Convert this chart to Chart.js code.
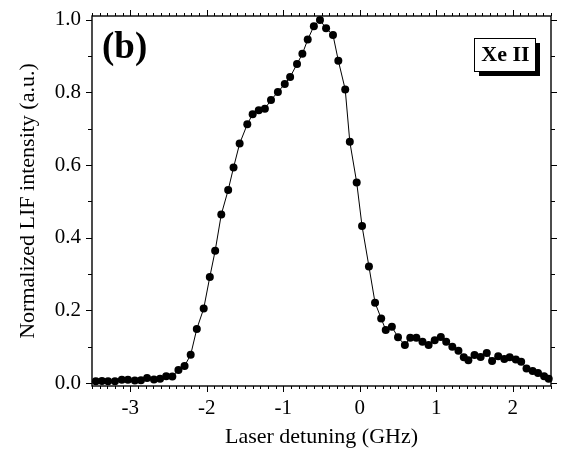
<!DOCTYPE html>
<html>
<head>
<meta charset="utf-8">
<script src="https://cdn.jsdelivr.net/npm/chart.js@4.4.0/dist/chart.umd.min.js"></script>
<style>
    html, body { margin: 0; padding: 0; background: #fff; }
    #wrap { width: 566px; height: 451px; }
</style>
</head>
<body>
<div id="wrap"><canvas id="lif-chart-id" width="566" height="451"></canvas></div>
<script>
// laser detuning (GHz)
const detuning = [
    -3.45, -3.37, -3.29, -3.20, -3.11, -3.03, -2.94, -2.86, -2.78, -2.69,
    -2.61, -2.53, -2.45, -2.37, -2.29, -2.21, -2.13, -2.04, -1.96, -1.89,
    -1.81, -1.72, -1.65, -1.57, -1.47, -1.40, -1.32, -1.24, -1.16, -1.07,
    -0.98, -0.91, -0.82, -0.75, -0.68, -0.60, -0.52, -0.44, -0.35, -0.28,
    -0.19, -0.13, -0.04, 0.03, 0.12, 0.20, 0.28, 0.34, 0.42, 0.50,
    0.59, 0.66, 0.74, 0.82, 0.90, 0.98, 1.06, 1.13, 1.21, 1.29,
    1.36, 1.42, 1.50, 1.58, 1.66, 1.73, 1.81, 1.89, 1.96, 2.04,
    2.11, 2.18, 2.26, 2.33, 2.41, 2.47
]
// normalized LIF intensity
const intensity = [
    0.005, 0.006, 0.005, 0.005, 0.009, 0.009, 0.007, 0.008, 0.014, 0.010,
    0.012, 0.019, 0.018, 0.036, 0.047, 0.078, 0.149, 0.205, 0.292, 0.364,
    0.464, 0.531, 0.593, 0.659, 0.712, 0.740, 0.751, 0.755, 0.779, 0.801,
    0.823, 0.842, 0.878, 0.906, 0.945, 0.982, 0.999, 0.976, 0.958, 0.887,
    0.808, 0.664, 0.552, 0.432, 0.321, 0.221, 0.178, 0.146, 0.155, 0.126,
    0.105, 0.125, 0.125, 0.114, 0.105, 0.118, 0.127, 0.114, 0.100, 0.089,
    0.071, 0.063, 0.077, 0.072, 0.083, 0.061, 0.074, 0.066, 0.071, 0.065,
    0.059, 0.040, 0.033, 0.028, 0.019, 0.012
]
const xTicks = [-3, -2, -1, 0, 1, 2]
const yTicks = [0, 0.2, 0.4, 0.6, 0.8, 1.0]
const panelLabel = '(b)'
const speciesLabel = 'Xe II'

const SERIF = '"Liberation Serif", "Times New Roman", Times, serif'
const INK = '#000'

// box, minor/major ticks on all four sides, panel label and species box
const frameAndTicks = {
    id: 'frameAndTicks',
    afterDraw(chart) {
        const { ctx, chartArea: a, scales: { x, y } } = chart
        ctx.save()
        ctx.strokeStyle = INK
        ctx.lineWidth = 1.4
        ctx.strokeRect(a.left, a.top, a.right - a.left, a.bottom - a.top)

        ctx.lineWidth = 1
        ctx.beginPath()
        for (let i = -35; i <= 25; i++) {
            const px = Math.round(x.getPixelForValue(i / 10)) + 0.5
            const len = i % 10 === 0 ? 6 : 3
            ctx.moveTo(px, a.bottom); ctx.lineTo(px, a.bottom + len)
            ctx.moveTo(px, a.top); ctx.lineTo(px, a.top - len)
        }
        for (let j = 0; j <= 10; j++) {
            const py = Math.round(y.getPixelForValue(j / 10)) + 0.5
            const len = j % 2 === 0 ? 6 : 4
            ctx.moveTo(a.left, py); ctx.lineTo(a.left - len, py)
            ctx.moveTo(a.right, py); ctx.lineTo(a.right + len, py)
        }
        ctx.stroke()

        // (b)
        ctx.fillStyle = INK
        ctx.font = 'bold 37px ' + SERIF
        ctx.textAlign = 'left'
        ctx.textBaseline = 'middle'
        ctx.fillText(panelLabel, a.left + 10, a.top + 32)

        // Xe II box with drop shadow
        const bw = 61, bh = 33
        const bx = a.right - 16 - bw, by = a.top + 22
        ctx.fillRect(bx + 5, by + 5, bw, bh)
        ctx.fillStyle = '#fff'
        ctx.fillRect(bx, by, bw, bh)
        ctx.lineWidth = 1
        ctx.strokeRect(bx + 0.5, by + 0.5, bw, bh)
        ctx.fillStyle = INK
        ctx.font = 'bold 22px ' + SERIF
        ctx.textAlign = 'center'
        ctx.fillText(speciesLabel, bx + bw / 2 + 1, by + bh / 2 + 1)
        ctx.restore()
    }
}

const points = detuning.map((d, i) => ({ x: d, y: intensity[i] }))

Chart.defaults.font.family = SERIF
Chart.defaults.color = INK

new Chart(document.getElementById('lif-chart-id'), {
    type: 'line',
    data: {
        datasets: [{
            data: points,
            borderColor: INK,
            borderWidth: 1,
            tension: 0,
            pointRadius: 4,
            pointHoverRadius: 4,
            pointBackgroundColor: INK,
            pointBorderWidth: 0,
            clip: false
        }]
    },
    options: {
        responsive: false,
        animation: false,
        events: [],
        layout: { padding: { top: 16, right: 15, left: 0, bottom: 0 } },
        plugins: {
            legend: { display: false },
            tooltip: { enabled: false }
        },
        scales: {
            x: {
                type: 'linear',
                min: -3.5,
                max: 2.5,
                afterBuildTicks: scale => { scale.ticks = xTicks.map(v => ({ value: v })) },
                afterFit: scale => {
                    scale.height = 65
                    scale.paddingLeft = 0
                    scale.paddingRight = 0
                },
                grid: { display: false, drawTicks: false },
                border: { display: false },
                ticks: {
                    padding: 10,
                    maxRotation: 0,
                    font: { size: 21 },
                    callback: v => String(v)
                },
                title: {
                    display: true,
                    text: 'Laser detuning (GHz)',
                    font: { size: 22 },
                    padding: { top: 0, bottom: 1 }
                }
            },
            y: {
                min: -0.008,
                max: 1.01,
                afterBuildTicks: scale => { scale.ticks = yTicks.map(v => ({ value: v })) },
                afterFit: scale => {
                    scale.width = 92
                    // keep the plot box where the reference has it
                    scale.paddingTop = 0
                    scale.paddingBottom = 0
                },
                grid: { display: false, drawTicks: false },
                border: { display: false },
                ticks: {
                    padding: 11,
                    font: { size: 21 },
                    callback: v => v.toFixed(1)
                },
                title: {
                    display: true,
                    text: 'Normalized LIF intensity (a.u.)',
                    font: { size: 22 },
                    padding: { top: 15, bottom: 0 }
                }
            }
        }
    },
    plugins: [frameAndTicks]
})
</script>
</body>
</html>
